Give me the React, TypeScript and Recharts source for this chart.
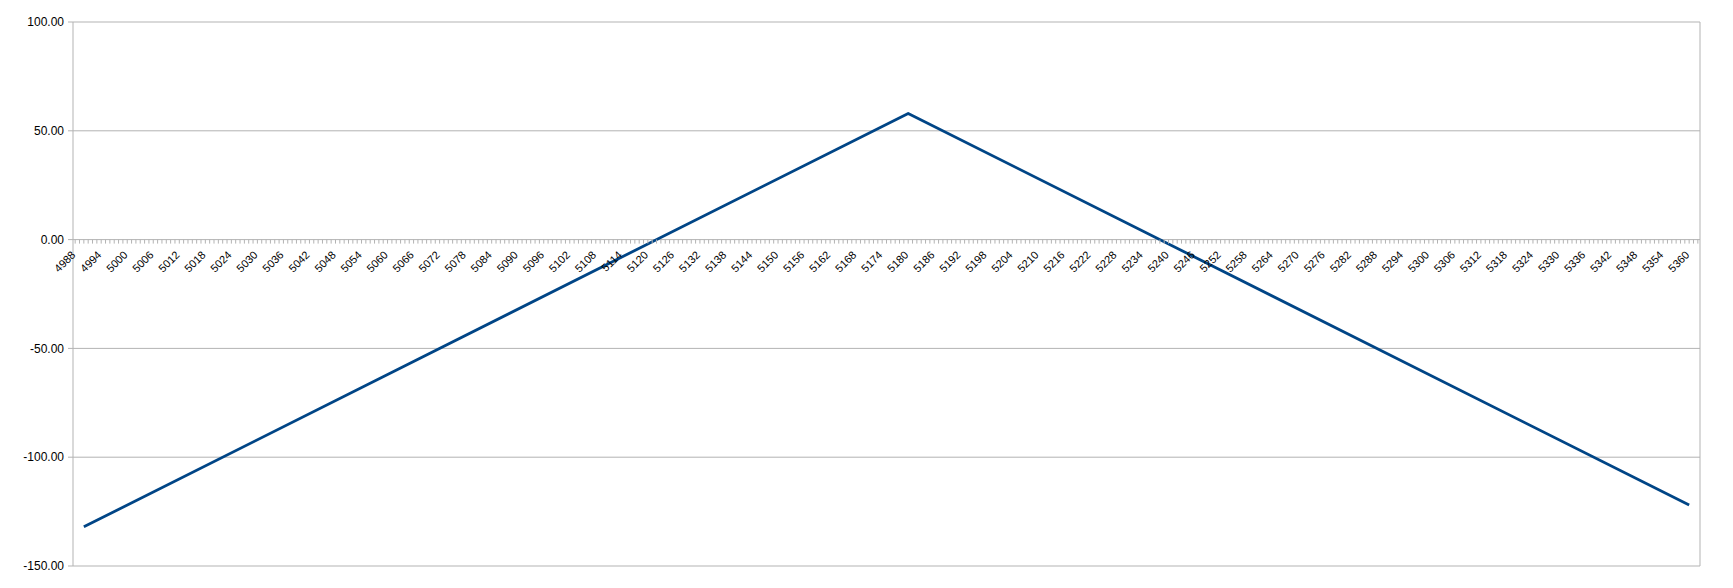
import { LineChart, Line, XAxis, YAxis, CartesianGrid, ReferenceLine } from "recharts";

// categories 4988..5362, one per unit, label on every 6th
const firstCat = 4988;
const lastCat = 5362;
const categories: number[] = Array.from({ length: lastCat - firstCat + 1 }, (_, i) => firstCat + i);

// the series only breaks at these points, it is a straight line in between
const strikes = [4990, 5180, 5360];
const pnl = [-132, 58, -122];

const yTicks = [-150, -100, -50, 0, 50, 100];

const data = strikes.map((x, i) => ({ x, y: pnl[i] }));

const W = 1733;
const H = 588;
const M = { top: 22, right: 33, bottom: 21, left: 0 };
const X_AXIS_H = 1;
const Y_MIN = -150;
const Y_MAX = 100;
const PLOT_H = H - M.top - M.bottom - X_AXIS_H;
// the category axis crosses at y = 0 (LibreOffice style)
const ZERO_Y = M.top + (PLOT_H * (Y_MAX - 0)) / (Y_MAX - Y_MIN);

const grid = "#b3b3b3";
const font = "'Liberation Sans', Arial, sans-serif";

function CatTick(props: any) {
  const { x, payload } = props;
  const v = payload.value as number;
  const showLabel = (v - firstCat) % 6 === 0 && v <= 5360;
  const lx = x + 1;
  const ly = ZERO_Y + 16;
  return (
    <g>
      <line x1={x} x2={x} y1={ZERO_Y} y2={ZERO_Y + 4} stroke={grid} />
      {showLabel && (
        <text
          x={lx}
          y={ly}
          textAnchor="end"
          fontSize={11}
          fontFamily={font}
          fill="#000"
          transform={`rotate(-45 ${lx} ${ly})`}
        >
          {v}
        </text>
      )}
    </g>
  );
}

export default function App() {
  return (
    <div style={{ position: "absolute", left: 0, top: 0, width: W, height: H, background: "#fff" }}>
      <LineChart width={W} height={H} data={data} margin={M}>
        <CartesianGrid vertical={false} stroke={grid} />
        <XAxis
          dataKey="x"
          type="number"
          domain={[firstCat - 0.5, lastCat + 0.5]}
          ticks={categories}
          interval={0}
          tick={CatTick}
          tickLine={false}
          axisLine={false}
          height={X_AXIS_H}
          allowDataOverflow
        />
        <YAxis
          domain={[Y_MIN, Y_MAX]}
          ticks={yTicks}
          width={73}
          tickFormatter={(v: number) => v.toFixed(2)}
          tick={{ fill: "#000", fontSize: 12, fontFamily: font }}
          tickLine={{ stroke: grid }}
          tickSize={5}
          tickMargin={4}
          axisLine={{ stroke: grid }}
        />
        <ReferenceLine x={lastCat + 0.5} stroke={grid} />
        <Line
          dataKey="y"
          type="linear"
          stroke="#004586"
          strokeWidth={2.8}
          strokeLinejoin="round"
          dot={false}
          isAnimationActive={false}
        />
      </LineChart>
    </div>
  );
}
